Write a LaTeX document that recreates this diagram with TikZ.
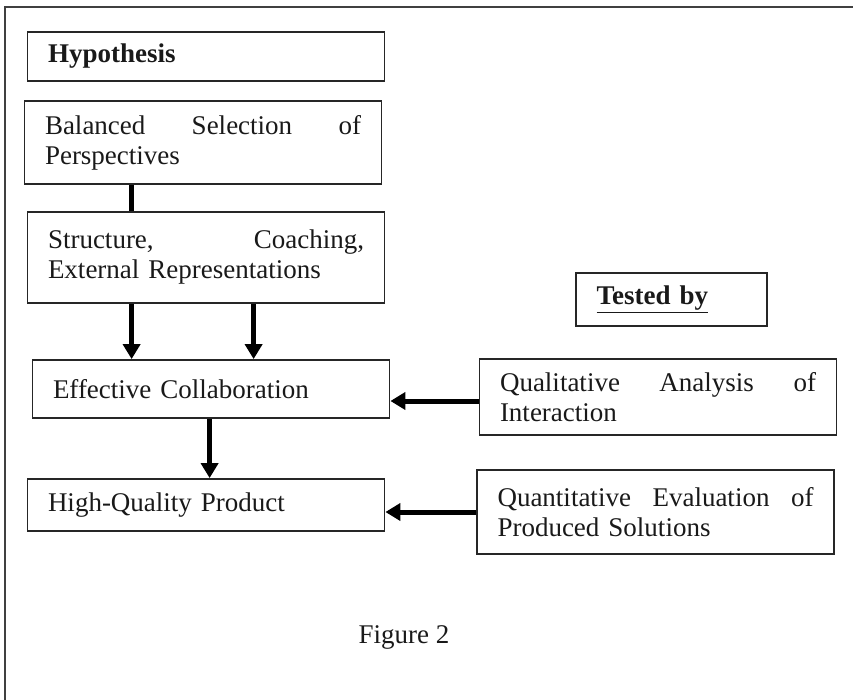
\documentclass[tikz,border=0pt]{standalone}
\usepackage{fontspec}
\setmainfont{Liberation Serif}
\usetikzlibrary{arrows.meta,calc}
\begin{document}
\begin{tikzpicture}[x=1pt,y=-1pt,
  every node/.style={font=\fontsize{27}{30}\selectfont, text=black!90},
  box/.style={draw=black!85, line width=1.8pt, inner xsep=20.5pt, inner ysep=0pt,
              text width=316pt, align=left},
  smallbox/.style={box, text width=150pt},
  link/.style={line width=5pt, black},
  arrow/.style={link, -{Triangle[length=15pt,width=17pt]}},
]
\useasboundingbox (0,0) rectangle (853,700);

% open frame: top and left edges only
\draw[line width=2pt, black!75] (5,700) -- (5,7) -- (853,7);

% left column: hypothesis chain
\node[box, minimum height=49pt] (hyp) at (206,56.5) {\textbf{Hypothesis}};
\node[box, minimum height=83pt] (bal) at (203,142.5)
  {\hbox to 316pt{Balanced\hfill Selection\hfill of}\\Perspectives};
\node[box, minimum height=91pt] (str) at (206,257.5)
  {\hbox to 316pt{Structure,\hfill Coaching,}\\External Representations};
\node[box, minimum height=58pt] (eff) at (211,389) {Effective Collaboration};
\node[box, minimum height=52pt] (hq) at (206,505) {High-Quality Product};

% right column: methods of testing
\node[smallbox, minimum height=53pt] (tst) at (671.5,299.5) {\underline{\textbf{Tested by}}};
\node[box, minimum height=76pt] (qual) at (658,397)
  {\hbox to 316pt{Qualitative\hfill Analysis\hfill of}\\Interaction};
\node[box, minimum height=84pt] (quant) at (655.5,512)
  {\hbox to 316pt{Quantitative\hfill Evaluation\hfill of}\\Produced Solutions};

% caption
\node (cap) at (404,637) {Figure 2};

% connectors
\draw[link] ([xshift=108pt]bal.south west) -- ([xshift=105pt]str.north west);
\draw[arrow] ([xshift=105pt]str.south west) -- ([xshift=100pt]eff.north west);
\draw[arrow] ([xshift=227pt]str.south west) -- ([xshift=222pt]eff.north west);
\draw[arrow] ([xshift=178pt]eff.south west) -- ([xshift=183pt]hq.north west);
\draw[arrow] ([yshift=-4pt]qual.west) -- ([yshift=-4pt]qual.west -| eff.east);
\draw[arrow] (quant.west) -- (quant.west -| hq.east);
\end{tikzpicture}
\end{document}
